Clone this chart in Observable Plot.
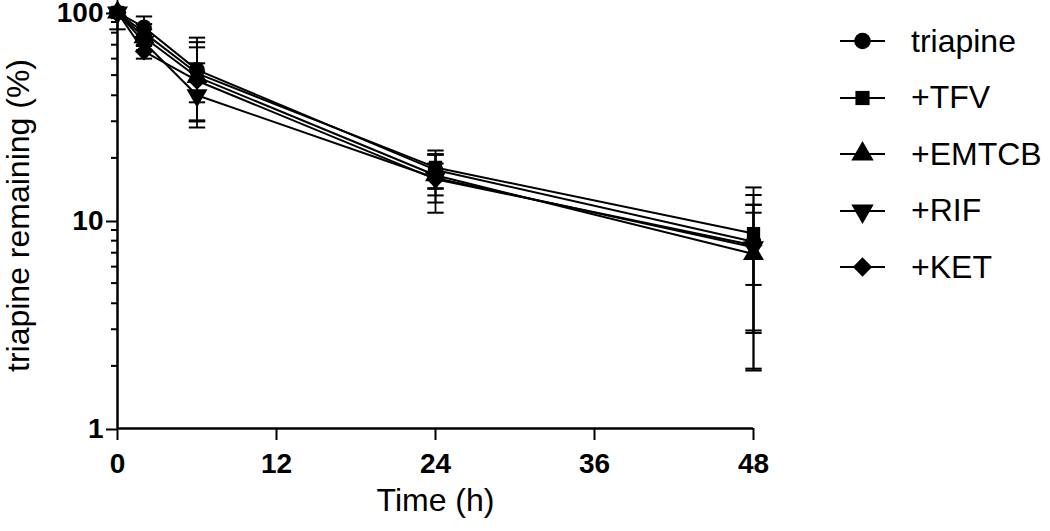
<!DOCTYPE html>
<html>
<head>
<meta charset="utf-8">
<script src="https://cdn.jsdelivr.net/npm/d3@7"></script>
<script src="https://cdn.jsdelivr.net/npm/@observablehq/plot@0.6"></script>
<style>
  html, body { margin: 0; padding: 0; background: #fff; }
  #wrap { position: relative; width: 1050px; height: 531px; font-family: "Liberation Sans", Arial, sans-serif; }
  #legend { position: absolute; left: 838px; top: 13px; }
  .item { display: flex; align-items: center; height: 56.5px; }
  .item span { font-size: 32px; margin-left: 23px; color: #000; }
</style>
</head>
<body>
<div id="wrap"><div id="chart"></div><div id="legend"></div></div>
<script>
// ---- data ----
const times = [0, 2, 6, 24, 48];
const seriesNames = ["triapine", "+TFV", "+EMTCB", "+RIF", "+KET"];
const triapineMean = [100, 85, 53, 17.5, 7.9];
const triapineSD   = [0, 10.7, 22.7, 3.3, 3.0];
const tfvMean      = [100, 80, 51, 18.0, 8.65];
const tfvSD        = [4, 8, 21, 3.7, 5.77];
const emtcbMean    = [100, 76, 49, 16.5, 6.9];
const emtcbSD      = [0, 7, 19, 4.3, 5.0];
const rifMean      = [100, 72, 40, 16.0, 7.43];
const rifSD        = [0, 6, 12, 2.8, 4.47];
const ketMean      = [100, 65, 47, 15.8, 7.6];
const ketSD        = [17, 5, 10, 4.9, 5.66];
const xTicks = [0, 12, 24, 36, 48];
const yTicks = [1, 10, 100];
const yMinorTicks = [2, 3, 4, 5, 6, 7, 8, 9, 20, 30, 40, 50, 60, 70, 80, 90];

// ---- symbols ----
const triangleDown = {
  draw(ctx, size) {
    const flip = {
      moveTo: (x, y) => ctx.moveTo(x, -y),
      lineTo: (x, y) => ctx.lineTo(x, -y),
      closePath: () => ctx.closePath()
    };
    d3.symbolTriangle.draw(flip, size);
  }
};
const capSymbol = {
  draw(ctx, size) {
    const w = Math.sqrt(size);
    ctx.moveTo(-w, 0);
    ctx.lineTo(w, 0);
  }
};
const symbols = [d3.symbolCircle, d3.symbolSquare, d3.symbolTriangle, triangleDown, d3.symbolDiamond2];
const symbolR = [7.8, 7.5, 7.8, 7.8, 8.2];

const means = [triapineMean, tfvMean, emtcbMean, rifMean, ketMean];
const sds = [triapineSD, tfvSD, emtcbSD, rifSD, ketSD];

const rows = [];
seriesNames.forEach((name, i) => {
  times.forEach((t, j) => {
    rows.push({series: name, idx: i, t, y: means[i][j], lo: means[i][j] - sds[i][j], hi: means[i][j] + sds[i][j]});
  });
});

const dotMarks = seriesNames.map((name, i) =>
  Plot.dot(rows.filter(d => d.idx === i), {x: "t", y: "y", symbol: symbols[i], r: symbolR[i], fill: "black", stroke: "none"})
);

const plot = Plot.plot({
  width: 1050,
  height: 531,
  marginTop: 12,
  marginBottom: 103,
  marginLeft: 117,
  marginRight: 297,
  style: {fontFamily: "'Liberation Sans', Arial, sans-serif", color: "black", background: "white", overflow: "visible"},
  x: {domain: [0, 48]},
  y: {type: "log", domain: [1, 100]},
  marks: [
    Plot.axisX({ticks: xTicks, tickSize: 12, tickPadding: 13, strokeWidth: 2, tickFormat: d => String(d), fontSize: 28, fontWeight: "bold", label: null}),
    Plot.axisY({ticks: yTicks, tickSize: 11, tickPadding: 3, strokeWidth: 2, tickFormat: d => String(d), fontSize: 28, fontWeight: "bold", dy: 1, label: null}),
    Plot.axisY({ticks: yMinorTicks, tickSize: 6, strokeWidth: 2, tickFormat: () => "", label: null}),
    Plot.ruleX([0], {strokeWidth: 2.5}),
    Plot.ruleY([1], {strokeWidth: 2.5}),
    Plot.text(["Time (h)"], {frameAnchor: "bottom", dy: 82, fontSize: 32, fill: "black"}),
    Plot.text(["triapine remaining (%)"], {frameAnchor: "left", textAnchor: "middle", dx: -99, dy: -5, rotate: -90, fontSize: 32, fill: "black"}),
    Plot.line(rows, {x: "t", y: "y", z: "series", stroke: "black", strokeWidth: 2}),
    Plot.ruleX(rows, {x: "t", y1: "lo", y2: "hi", stroke: "black", strokeWidth: 1.8}),
    Plot.dot(rows, {x: "t", y: "hi", symbol: capSymbol, r: 4.6, stroke: "black", strokeWidth: 2, fill: "none"}),
    Plot.dot(rows, {x: "t", y: "lo", symbol: capSymbol, r: 4.6, stroke: "black", strokeWidth: 2, fill: "none"}),
    ...dotMarks
  ]
});
document.getElementById("chart").appendChild(plot);

// ---- legend ----
const legend = d3.select("#legend");
seriesNames.forEach((name, i) => {
  const item = legend.append("div").attr("class", "item");
  const svg = item.append("svg").attr("width", 50).attr("height", 30);
  svg.append("line").attr("x1", 2).attr("x2", 47).attr("y1", 15).attr("y2", 15).attr("stroke", "black").attr("stroke-width", 2);
  const size = Math.PI * Math.pow(symbolR[i] + 0.5, 2);
  svg.append("path").attr("transform", "translate(24.5,15)").attr("d", d3.symbol(symbols[i], size)()).attr("fill", "black");
  item.append("span").text(name);
});
</script>
</body>
</html>
